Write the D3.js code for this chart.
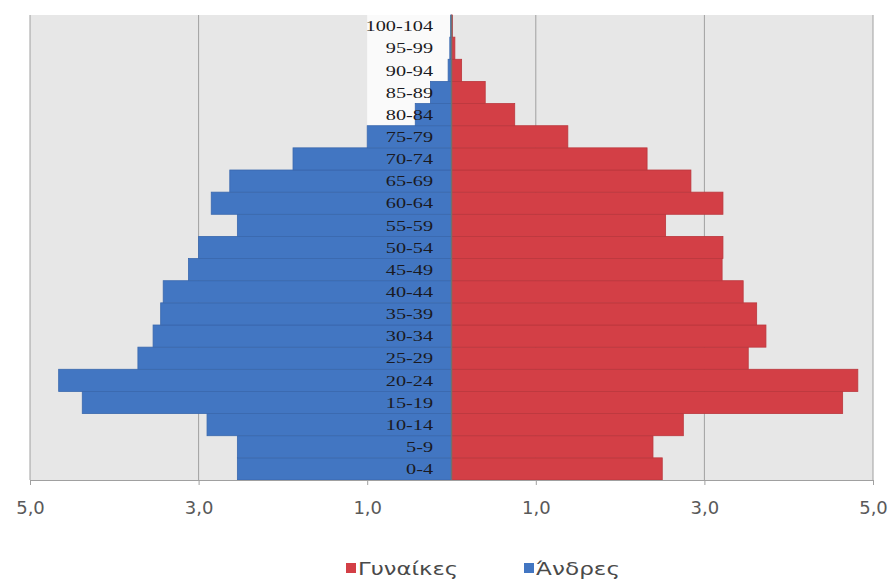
<!DOCTYPE html>
<html><head><meta charset="utf-8">
<script src="https://cdn.jsdelivr.net/npm/d3@7"></script>
<style>html,body{margin:0;padding:0;background:#fff;}svg{display:block;}</style>
</head><body>
<svg id="chart" width="890" height="582"></svg>
<script>
const ageGroups = ["0-4","5-9","10-14","15-19","20-24","25-29","30-34","35-39","40-44","45-49","50-54","55-59","60-64","65-69","70-74","75-79","80-84","85-89","90-94","95-99","100-104"];
const men = [2.54,2.54,2.90,4.38,4.66,3.72,3.54,3.45,3.42,3.12,3.00,2.54,2.85,2.63,1.88,1.00,0.43,0.25,0.04,0.02,0.01];
const women = [2.50,2.39,2.75,4.64,4.82,3.52,3.73,3.62,3.46,3.21,3.22,2.54,3.22,2.84,2.32,1.38,0.75,0.40,0.12,0.04,0.01];
const tickValues = [-5,-3,-1,1,3,5];
const seriesNames = ["Γυναίκες","Άνδρες"];

(function(){
const svg = d3.select("#chart");
const pL = 30, pR = 873, pT = 15, pB = 480;
const x = d3.scaleLinear().domain([-5,5]).range([pL,pR]);
const y = d3.scaleBand().domain(ageGroups.slice().reverse()).range([pT,pB]).padding(0);
const fmt = v => d3.format(".1f")(Math.abs(v)).replace(".", ",");

svg.append("rect").attr("x",pL).attr("y",pT).attr("width",pR-pL).attr("height",pB-pT).attr("fill","#e7e7e7");
svg.append("rect").attr("x",x(-1)).attr("y",pT).attr("width",x(0)-x(-1)).attr("height",pB-pT).attr("fill","#fafafa");

svg.append("g").selectAll("line").data([-5,-3,1,3,5]).join("line")
  .attr("x1",d=>x(d)).attr("x2",d=>x(d)).attr("y1",pT).attr("y2",pB)
  .attr("stroke","#a0a0a0").attr("stroke-width",1);

const data = ageGroups.map((g,i)=>({g, m:men[i], w:women[i]}));
svg.append("g").selectAll("rect").data(data).join("rect")
  .attr("x",d=>x(-d.m)).attr("y",d=>y(d.g)).attr("width",d=>x(0)-x(-d.m)).attr("height",y.bandwidth())
  .attr("fill","#4276c2").attr("stroke","#3a68ad").attr("stroke-width",0.8);
svg.append("g").selectAll("rect").data(data).join("rect")
  .attr("x",x(0)).attr("y",d=>y(d.g)).attr("width",d=>x(d.w)-x(0)).attr("height",y.bandwidth())
  .attr("fill","#d33f46").attr("stroke","#bb373d").attr("stroke-width",0.8);

svg.append("line").attr("x1",x(0)).attr("x2",x(0)).attr("y1",pT).attr("y2",pB)
  .attr("stroke","#707070").attr("stroke-width",1.5);

svg.append("g").selectAll("text").data(ageGroups).join("text")
  .attr("transform",d=>`translate(433,${y(d)+y.bandwidth()/2}) scale(1.35,1)`).attr("dy","0.35em")
  .attr("text-anchor","end").attr("font-family","Liberation Serif, serif").attr("font-size",15)
  .attr("fill","#1a1a22").text(d=>d);

const axis = d3.axisBottom(x).tickValues(tickValues).tickFormat(fmt).tickSize(5).tickPadding(16);
const ag = svg.append("g").attr("transform",`translate(0,${pB})`).call(axis);
ag.select(".domain").attr("stroke","#a0a0a0");
ag.selectAll(".tick line").attr("stroke","#a0a0a0");
ag.selectAll(".tick text").attr("font-family","DejaVu Sans, sans-serif").attr("font-size",18).attr("fill","#595959");

const legend = [{name:seriesNames[0], color:"#d33f46", x:346, w:100},{name:seriesNames[1], color:"#4276c2", x:524, w:84}];
const lg = svg.append("g").selectAll("g").data(legend).join("g").attr("transform",d=>`translate(${d.x},0)`);
lg.append("rect").attr("x",0).attr("y",563).attr("width",10).attr("height",10).attr("fill",d=>d.color);
lg.append("text").attr("x",12).attr("y",575).attr("font-family","DejaVu Sans, sans-serif").attr("font-size",17)
  .attr("textLength",d=>d.w).attr("lengthAdjust","spacingAndGlyphs")
  .attr("fill","#4a4a4a").text(d=>d.name);
})();
</script>
</body></html>
